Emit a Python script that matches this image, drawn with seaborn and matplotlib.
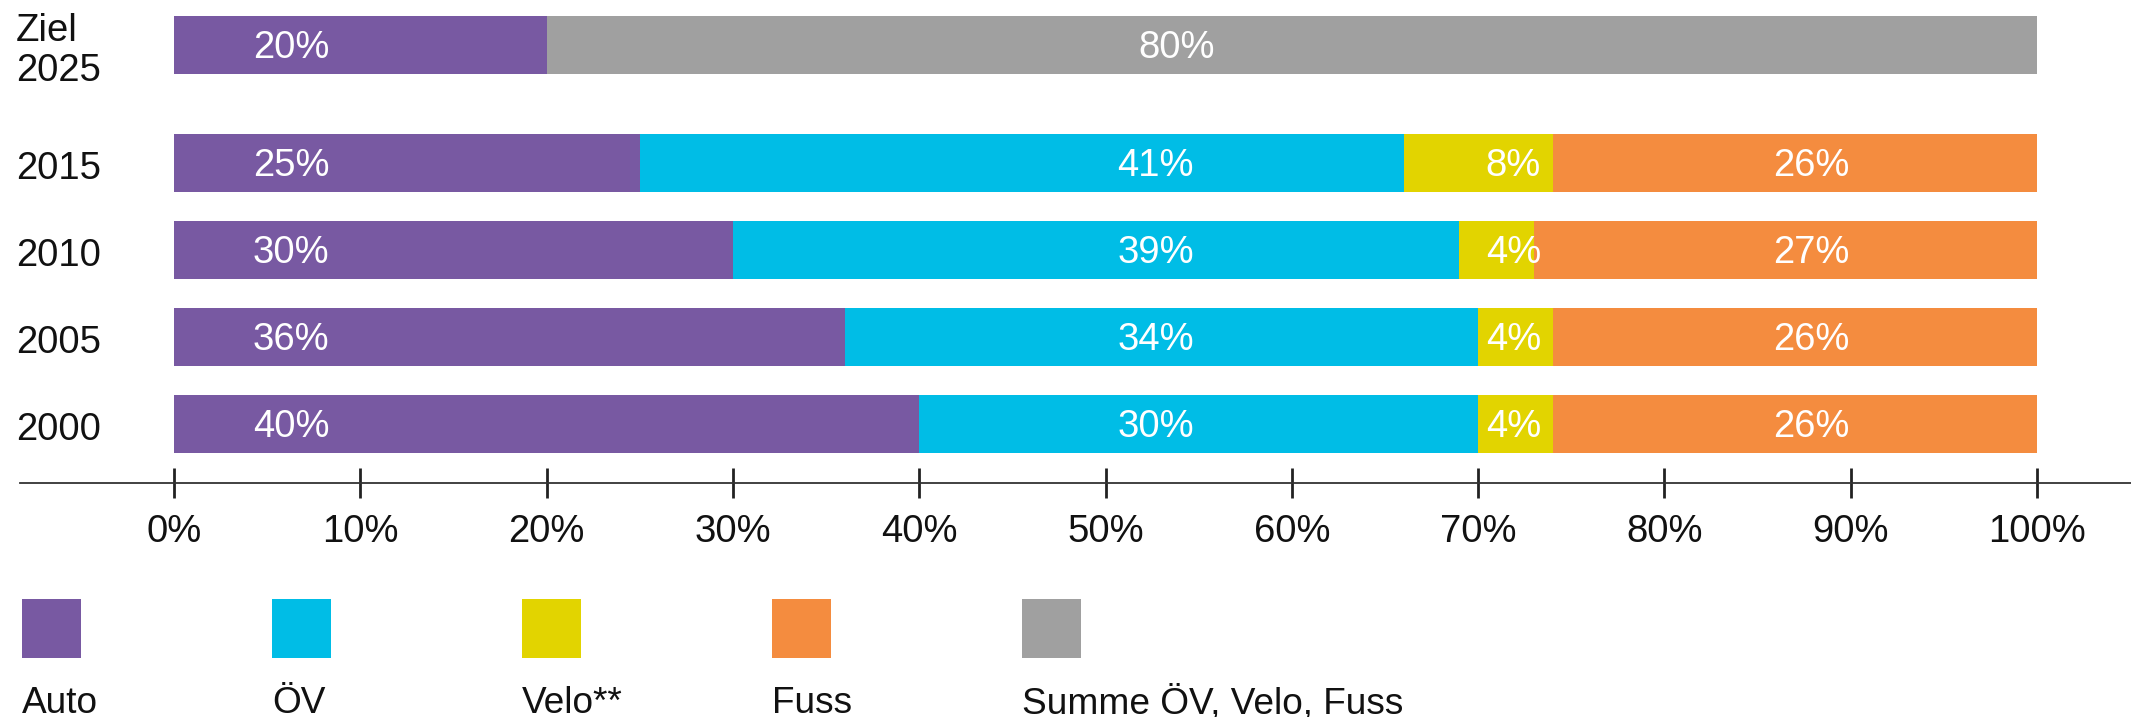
import numpy as np
import pandas as pd
import matplotlib
matplotlib.use("Agg")
import matplotlib.pyplot as plt
from matplotlib.patches import Rectangle
import seaborn as sns

# ---------------- data ----------------
rows = ["2000", "2005", "2010", "2015", "Ziel\n2025"]
auto = [40, 36, 30, 25, 20]
oev = [30, 34, 39, 41, 0]
velo = [4, 4, 4, 8, 0]
fuss = [26, 26, 27, 26, 0]
summe = [0, 0, 0, 0, 80]
series_names = ["Auto", "ÖV", "Velo**", "Fuss", "Summe ÖV, Velo, Fuss"]
xticks = [0, 10, 20, 30, 40, 50, 60, 70, 80, 90, 100]
xtick_labels = [f"{t}%" for t in xticks]

# ---------------- style / layout ----------------
colors = ["#7859A2", "#00BDE6", "#E2D400", "#F48C3F", "#A0A0A0"]
row_pos = [0, 1, 2, 3, 4.356]          # vertical slot of each row
label_x = [6.3, 52.7, 71.9, 87.9, 53.8]  # x (in %) where each series' value label sits
FS = 27.5
W, H = 2131, 717

sns.set_style("white")
plt.rcParams["font.family"] = ["Liberation Sans", "DejaVu Sans"]

fig = plt.figure(figsize=(W / 100, H / 100), dpi=100)
ax = fig.add_axes([20 / W, (H - 482.7) / H, (W - 20) / W, 482.7 / H])

series = [auto, oev, velo, fuss, summe]
cum = np.cumsum(np.array(series, dtype=float), axis=0)

# draw cumulative totals, largest first, so each series shows as a stacked segment
for i in range(len(series) - 1, -1, -1):
    sns.barplot(x=cum[i], y=row_pos, orient="h", native_scale=True,
                color=colors[i], saturation=1, width=0.67, linewidth=0,
                errorbar=None, ax=ax)

# value labels
for i, vals in enumerate(series):
    for r, v in enumerate(vals):
        if v > 0:
            ax.text(label_x[i], row_pos[r] - 0.03, f"{v}%", ha="center", va="center",
                    color="white", fontsize=FS)

ax.set_xlim((20 - 174) / 18.63, (W - 174) / 18.63)
ax.set_ylim(-0.675, 4.874)
ax.set_xlabel("")
ax.set_ylabel("")

for s in ["top", "right", "left"]:
    ax.spines[s].set_visible(False)
ax.spines["bottom"].set_color("#333333")
ax.spines["bottom"].set_linewidth(1.3)

ax.set_xticks(xticks, xtick_labels)
ax.tick_params(axis="x", bottom=True, direction="inout", length=21, width=2.0,
               color="#222222", pad=12, labelsize=FS, labelcolor="#111111")
ax.set_yticks(np.array(row_pos) - 0.07, rows)
ax.tick_params(axis="y", left=False, length=0, pad=3, labelsize=FS, labelcolor="#111111")
for lab in ax.get_yticklabels():
    lab.set_ha("left")
    lab.set_va("center")
    lab.set_linespacing(1.15)

# legend: swatch above label
for i, name in enumerate(series_names):
    x0 = 22 + 250 * i
    fig.add_artist(Rectangle((x0 / W, (H - 658) / H), 59 / W, 59 / H,
                             transform=fig.transFigure, facecolor=colors[i],
                             edgecolor="none"))
    fig.text(x0 / W, (H - 713) / H, name, ha="left", va="baseline",
             fontsize=FS * 0.97, color="#111111")

fig.savefig("out.png", dpi=100)
